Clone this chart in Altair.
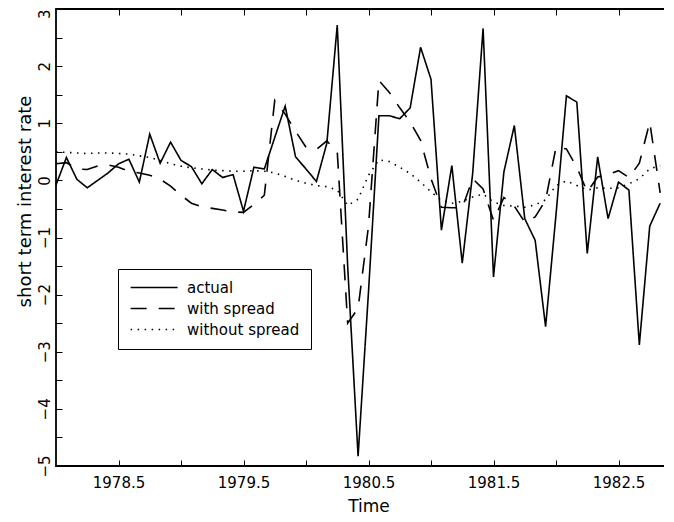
import altair as alt
import pandas as pd

# monthly observations starting January 1978
n_months = 59
actual = [-0.08, 0.40, 0.02, -0.13, 0.00, 0.13, 0.29, 0.37, -0.03, 0.81,
          0.30, 0.67, 0.35, 0.24, -0.06, 0.19, 0.05, 0.10, -0.54, 0.23,
          0.20, 0.75, 1.30, 0.41, 0.20, -0.02, 0.65, 2.72, -1.50, -4.83,
          -1.95, 1.13, 1.13, 1.08, 1.27, 2.33, 1.77, -0.87, 0.26, -1.45,
          0.12, 2.66, -1.69, 0.15, 0.96, -0.67, -1.05, -2.56, -0.60, 1.48,
          1.37, -1.28, 0.41, -0.67, -0.03, -0.17, -2.88, -0.80, -0.40]
with_spread = [0.29, 0.31, 0.20, 0.19, 0.25, 0.27, 0.23, 0.16, 0.13, 0.09,
               0.02, -0.10, -0.26, -0.40, -0.46, -0.49, -0.52, -0.55, -0.56, -0.42,
               -0.26, 1.40, 1.16, 0.86, 0.58, 0.54, 0.69, 0.50, -2.50, -2.24,
               -0.80, 1.75, 1.54, 1.27, 1.02, 0.70, 0.03, -0.47, -0.48, -0.48,
               0.03, -0.15, -0.70, -0.30, -0.45, -0.73, -0.64, -0.35, 0.58, 0.55,
               0.23, -0.20, 0.06, 0.10, 0.17, 0.05, 0.30, 1.02, -0.22]
without_spread = [0.50, 0.49, 0.48, 0.47, 0.48, 0.48, 0.47, 0.46, 0.43, 0.40,
                  0.35, 0.29, 0.25, 0.22, 0.20, 0.18, 0.17, 0.16, 0.16, 0.17,
                  0.16, 0.13, 0.07, 0.00, -0.05, -0.09, -0.11, -0.17, -0.44, -0.33,
                  0.09, 0.36, 0.33, 0.23, 0.12, -0.03, -0.20, -0.35, -0.40, -0.37,
                  -0.29, -0.24, -0.38, -0.44, -0.45, -0.47, -0.43, -0.34, -0.09, -0.01,
                  -0.09, -0.17, -0.13, -0.14, -0.13, -0.06, 0.03, 0.20, 0.26]
series_names = ["actual", "with spread", "without spread"]
x_tick_values = [1978.5, 1979.0, 1979.5, 1980.0, 1980.5, 1981.0, 1981.5, 1982.0, 1982.5, 1983.0]
y_tick_values = [-5, -4.5, -4, -3.5, -3, -2.5, -2, -1.5, -1, -0.5, 0, 0.5, 1, 1.5, 2, 2.5, 3]

times = [1978 + m / 12 for m in range(n_months)]
rows = []
for name, vals in zip(series_names, [actual, with_spread, without_spread]):
    for t, v in zip(times, vals):
        rows.append({"time": t, "value": v, "series": name})
df = pd.DataFrame(rows)

FONT = "DejaVu Sans"
xs = alt.Scale(domain=[1978, 1983], nice=False, zero=False)
ys = alt.Scale(domain=[-5, 3], nice=False, zero=False)

x_bottom = alt.Axis(orient="bottom", values=x_tick_values,
                    labelExpr="datum.value % 1 == 0.5 ? format(datum.value, '.1f') : ''",
                    tickSize=6, offset=-6, domain=False, grid=False,
                    labelPadding=9, labelFontSize=15, labelOverlap=False, labelFlush=False,
                    title="Time", titleFontSize=17, titlePadding=8)
x_top = alt.Axis(orient="top", values=x_tick_values, labels=False, title=None,
                 tickSize=6, offset=-6, domain=False, grid=False)
y_left = alt.Axis(orient="left", values=y_tick_values,
                  labelExpr="datum.value % 1 == 0 ? format(datum.value, 'd') : ''",
                  labelAngle=270,
                  labelAlign={"condition": {"test": "datum.value == 3", "value": "right"},
                              "value": "center"},
                  labelBaseline="middle",
                  labelPadding=12, labelFontSize=15, labelOverlap=False, labelFlush=False,
                  tickSize=6, offset=-6, domain=False, grid=False,
                  title="short term interest rate", titleFontSize=18, titlePadding=3,
                  titleY=192)

legend = alt.Legend(title=None, orient="none", legendX=62, legendY=260,
                    symbolType="M-1,0H7", symbolSize=138, symbolStrokeWidth=1.6,
                    symbolStrokeColor="black", labelFontSize=15, labelOffset=43,
                    padding=11, rowPadding=5, strokeColor="black")
sd = alt.StrokeDash("series:N",
                    scale=alt.Scale(domain=series_names, range=[[1, 0], [16, 12], [1.5, 5.5]]),
                    legend=legend)
y_enc = alt.Y("value:Q", scale=ys, axis=y_left)

base = alt.Chart(df)
layer_actual = base.transform_filter(alt.datum.series == "actual").mark_line(
    color="black", strokeWidth=1.6).encode(
    x=alt.X("time:Q", scale=xs, axis=x_bottom), y=y_enc, strokeDash=sd)
layer_with = base.transform_filter(alt.datum.series == "with spread").mark_line(
    color="black", strokeWidth=1.6).encode(
    x=alt.X("time:Q", scale=xs, axis=x_top), y=y_enc, strokeDash=sd)
layer_without = base.transform_filter(alt.datum.series == "without spread").mark_line(
    color="black", strokeWidth=1.6).encode(
    x=alt.X("time:Q", scale=xs, axis=None), y=y_enc, strokeDash=sd)

chart = alt.layer(layer_actual, layer_with, layer_without).resolve_axis(
    x="independent").properties(
    width=625, height=457, background="white",
    autosize=alt.AutoSizeParams(type="none"),
    padding={"left": 48, "top": 1, "right": -17, "bottom": 48},
).configure_view(stroke="black", strokeWidth=1.8).configure_axis(
    labelFont=FONT, titleFont=FONT, titleFontWeight="normal",
    labelColor="black", titleColor="black", tickColor="black", tickWidth=1,
).configure_legend(labelFont=FONT, labelColor="black")

chart.save("out.html", embed_options={"renderer": "svg", "actions": False})
